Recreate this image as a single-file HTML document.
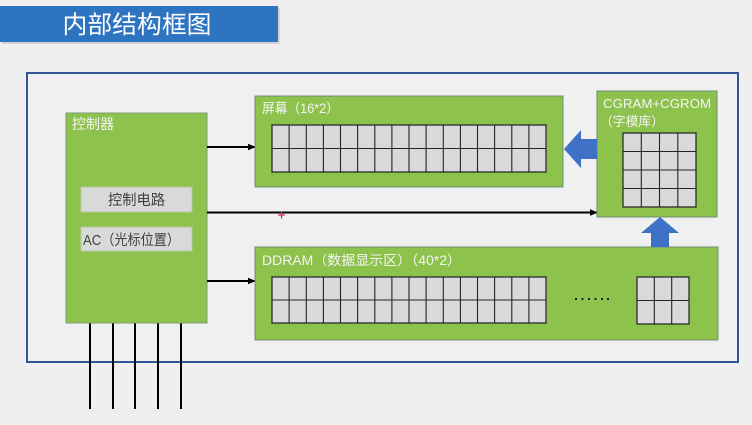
<!DOCTYPE html>
<html>
<head>
<meta charset="utf-8">
<style>
  html,body{margin:0;padding:0;background:#efefef;}
  body{width:752px;height:425px;overflow:hidden;position:relative;}
  svg{position:absolute;left:0;top:0;}
  text{font-family:"Liberation Sans","Noto Sans CJK SC",sans-serif;}
</style>
</head>
<body>
<svg width="752" height="425" viewBox="0 0 752 425" xmlns="http://www.w3.org/2000/svg">
  <defs>
    <marker id="ah" markerWidth="8" markerHeight="8" refX="7" refY="4" orient="auto" markerUnits="userSpaceOnUse">
      <path d="M0,0.8 L8,4 L0,7.2 Z" fill="#000"/>
    </marker>
  </defs>

  <!-- background -->
  <rect x="0" y="0" width="752" height="425" fill="#efefef"/>

  <!-- title bar -->
  <rect x="2" y="8" width="278" height="36" fill="#c8c8c8" opacity="0.7"/>
  <rect x="0" y="6" width="278" height="36" fill="#2e74c0"/>
  <text x="137" y="33" font-size="24.5" fill="#ffffff" text-anchor="middle" textLength="149" lengthAdjust="spacingAndGlyphs">内部结构框图</text>

  <!-- outer frame -->
  <rect x="27" y="73" width="711" height="289" fill="#f0f0f0" stroke="#2f5597" stroke-width="2"/>

  <!-- bottom pins -->
  <g stroke="#000" stroke-width="2">
    <line x1="90" y1="323" x2="90" y2="409"/>
    <line x1="113" y1="323" x2="113" y2="409"/>
    <line x1="135" y1="323" x2="135" y2="409"/>
    <line x1="158" y1="323" x2="158" y2="409"/>
    <line x1="181" y1="323" x2="181" y2="409"/>
  </g>

  <!-- controller -->
  <rect x="66" y="113" width="141" height="210" fill="#8dc24c" stroke="#7e9c78" stroke-width="1"/>
  <text x="72" y="129" font-size="14" fill="#f4f4f4" textLength="42" lengthAdjust="spacingAndGlyphs">控制器</text>
  <rect x="81" y="187" width="111" height="25" fill="#d9d9d9" stroke="#b8c8a8" stroke-width="1"/>
  <text x="136.5" y="205" font-size="14.5" fill="#404040" text-anchor="middle" textLength="57" lengthAdjust="spacingAndGlyphs">控制电路</text>
  <rect x="81" y="227" width="111" height="24" fill="#d9d9d9" stroke="#b8c8a8" stroke-width="1"/>
  <text x="83" y="245" font-size="14.5" fill="#404040" textLength="97" lengthAdjust="spacingAndGlyphs">AC（光标位置）</text>

  <!-- connectors -->
  <g stroke="#000" stroke-width="2" fill="none">
    <line x1="207" y1="147" x2="255" y2="147" marker-end="url(#ah)"/>
    <line x1="207" y1="212.5" x2="597" y2="212.5" marker-end="url(#ah)"/>
    <line x1="207" y1="281" x2="255" y2="281" marker-end="url(#ah)"/>
  </g>

  <!-- red cursor -->
  <g stroke="#e0204a" stroke-width="1.2">
    <line x1="278" y1="215" x2="285" y2="215"/>
    <line x1="281.5" y1="211.5" x2="281.5" y2="218.5"/>
  </g>

  <!-- screen -->
  <rect x="255" y="96" width="308" height="91" fill="#8dc24c" stroke="#6f8f76" stroke-width="1"/>
  <text x="262" y="113" font-size="13.5" fill="#f4f4f4" textLength="77" lengthAdjust="spacingAndGlyphs">屏幕（16*2）</text>
  <g id="grid1">
    <rect x="272" y="125" width="274" height="47" fill="#d9d9d9" stroke="#222" stroke-width="1.2"/>
  </g>

  <!-- CGRAM -->
  <rect x="597" y="91" width="120" height="126" fill="#8dc24c" stroke="#6f8f76" stroke-width="1"/>
  <text x="603" y="108" font-size="13" fill="#f4f4f4" textLength="108" lengthAdjust="spacingAndGlyphs">CGRAM+CGROM</text>
  <text x="600" y="126" font-size="13" fill="#f4f4f4" textLength="64" lengthAdjust="spacingAndGlyphs">（字模库）</text>
  <rect x="623" y="133" width="73" height="74" fill="#d9d9d9" stroke="#222" stroke-width="1.2"/>

  <!-- DDRAM -->
  <rect x="255" y="247" width="463" height="93" fill="#8dc24c" stroke="#6f8f76" stroke-width="1"/>
  <text x="262" y="265" font-size="13.5" fill="#f4f4f4" textLength="199" lengthAdjust="spacingAndGlyphs">DDRAM（数据显示区）（40*2）</text>
  <rect x="272" y="277" width="274" height="46" fill="#d9d9d9" stroke="#222" stroke-width="1.2"/>
  <rect x="637" y="277" width="52" height="47" fill="#d9d9d9" stroke="#222" stroke-width="1.2"/>
  <g fill="#222">
    <rect x="575" y="298" width="2" height="2"/>
    <rect x="581.5" y="298" width="2" height="2"/>
    <rect x="588" y="298" width="2" height="2"/>
    <rect x="594.5" y="298" width="2" height="2"/>
    <rect x="601" y="298" width="2" height="2"/>
    <rect x="607" y="298" width="2" height="2"/>
  </g>

  <!-- grid lines -->
  <g stroke="#222" stroke-width="1.1">
    <!-- screen grid -->
    <line x1="272" y1="148.5" x2="546" y2="148.5"/>
    <line x1="289.1" y1="125" x2="289.1" y2="172"/>
    <line x1="306.3" y1="125" x2="306.3" y2="172"/>
    <line x1="323.4" y1="125" x2="323.4" y2="172"/>
    <line x1="340.5" y1="125" x2="340.5" y2="172"/>
    <line x1="357.6" y1="125" x2="357.6" y2="172"/>
    <line x1="374.8" y1="125" x2="374.8" y2="172"/>
    <line x1="391.9" y1="125" x2="391.9" y2="172"/>
    <line x1="409" y1="125" x2="409" y2="172"/>
    <line x1="426.1" y1="125" x2="426.1" y2="172"/>
    <line x1="443.3" y1="125" x2="443.3" y2="172"/>
    <line x1="460.4" y1="125" x2="460.4" y2="172"/>
    <line x1="477.5" y1="125" x2="477.5" y2="172"/>
    <line x1="494.6" y1="125" x2="494.6" y2="172"/>
    <line x1="511.8" y1="125" x2="511.8" y2="172"/>
    <line x1="528.9" y1="125" x2="528.9" y2="172"/>
    <!-- ddram grid -->
    <line x1="272" y1="300" x2="546" y2="300"/>
    <line x1="289.1" y1="277" x2="289.1" y2="323"/>
    <line x1="306.3" y1="277" x2="306.3" y2="323"/>
    <line x1="323.4" y1="277" x2="323.4" y2="323"/>
    <line x1="340.5" y1="277" x2="340.5" y2="323"/>
    <line x1="357.6" y1="277" x2="357.6" y2="323"/>
    <line x1="374.8" y1="277" x2="374.8" y2="323"/>
    <line x1="391.9" y1="277" x2="391.9" y2="323"/>
    <line x1="409" y1="277" x2="409" y2="323"/>
    <line x1="426.1" y1="277" x2="426.1" y2="323"/>
    <line x1="443.3" y1="277" x2="443.3" y2="323"/>
    <line x1="460.4" y1="277" x2="460.4" y2="323"/>
    <line x1="477.5" y1="277" x2="477.5" y2="323"/>
    <line x1="494.6" y1="277" x2="494.6" y2="323"/>
    <line x1="511.8" y1="277" x2="511.8" y2="323"/>
    <line x1="528.9" y1="277" x2="528.9" y2="323"/>
    <!-- small ddram grid -->
    <line x1="637" y1="300.5" x2="689" y2="300.5"/>
    <line x1="654.3" y1="277" x2="654.3" y2="324"/>
    <line x1="671.7" y1="277" x2="671.7" y2="324"/>
    <!-- cgram grid -->
    <line x1="641.3" y1="133" x2="641.3" y2="207"/>
    <line x1="659.5" y1="133" x2="659.5" y2="207"/>
    <line x1="677.8" y1="133" x2="677.8" y2="207"/>
    <line x1="623" y1="151.5" x2="696" y2="151.5"/>
    <line x1="623" y1="170" x2="696" y2="170"/>
    <line x1="623" y1="188.5" x2="696" y2="188.5"/>
  </g>

  <!-- blue arrows -->
  <path d="M597,139 L581,139 L581,130 L564,149 L581,168 L581,159 L597,159 Z" fill="#3f71c6"/>
  <path d="M651,247 L651,233 L641,233 L660,217 L679,233 L669,233 L669,247 Z" fill="#3f71c6"/>
</svg>
</body>
</html>
